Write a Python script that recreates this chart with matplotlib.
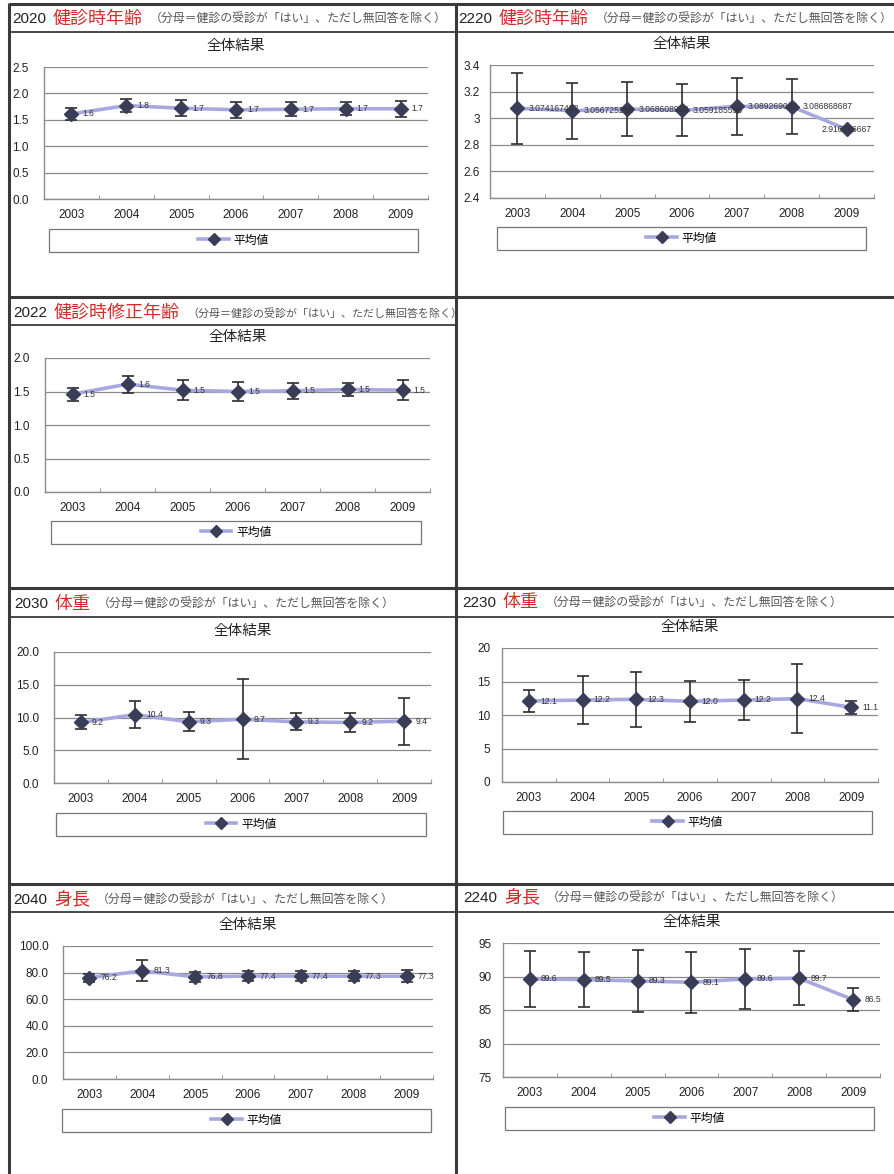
import matplotlib
matplotlib.use("Agg")
import matplotlib.pyplot as plt
from matplotlib.lines import Line2D
from matplotlib.patches import Rectangle
from matplotlib.ticker import FixedLocator, FuncFormatter
import numpy as np

plt.rcParams['font.family'] = ['Liberation Sans', 'Noto Sans CJK JP']

# data
years = ["2003", "2004", "2005", "2006", "2007", "2008", "2009"]

age_2020_mean = [1.61, 1.77, 1.72, 1.69, 1.70, 1.71, 1.71]
age_2020_err = [0.12, 0.13, 0.15, 0.15, 0.13, 0.12, 0.15]

age_2220_mean = [3.074167402, 3.056725258, 3.068608923, 3.059185556,
                 3.089269006, 3.086868687, 2.916666667]
age_2220_err = [0.265, 0.21, 0.20, 0.195, 0.215, 0.205, 0.0]

corr_2022_mean = [1.46, 1.61, 1.52, 1.50, 1.51, 1.53, 1.52]
corr_2022_err = [0.095, 0.125, 0.15, 0.14, 0.115, 0.10, 0.145]

wt_2030_mean = [9.24, 10.44, 9.34, 9.74, 9.33, 9.24, 9.44]
wt_2030_err = [1.07, 2.1, 1.45, 6.1, 1.3, 1.38, 3.6]

wt_2230_mean = [12.08, 12.24, 12.34, 12.04, 12.24, 12.44, 11.14]
wt_2230_err = [1.7, 3.65, 4.1, 3.05, 3.05, 5.2, 0.95]

ht_2040_mean = [76.2, 81.3, 76.8, 77.4, 77.4, 77.3, 77.3]
ht_2040_err = [3.0, 7.8, 4.0, 3.9, 3.9, 3.9, 4.4]

ht_2240_mean = [89.64, 89.54, 89.34, 89.14, 89.64, 89.74, 86.54]
ht_2240_err = [4.2, 4.15, 4.6, 4.55, 4.5, 4.05, 1.75]

codes = ["2020", "2220", "2022", "2030", "2230", "2040", "2240"]
names = ["健診時年齢", "健診時年齢", "健診時修正年齢", "体重", "体重", "身長", "身長"]
means = [age_2020_mean, age_2220_mean, corr_2022_mean, wt_2030_mean,
         wt_2230_mean, ht_2040_mean, ht_2240_mean]
errs = [age_2020_err, age_2220_err, corr_2022_err, wt_2030_err,
        wt_2230_err, ht_2040_err, ht_2240_err]
ylims = [(0, 2.5, 0.5), (2.4, 3.4, 0.2), (0, 2.0, 0.5), (0, 20, 5),
         (0, 20, 5), (0, 100, 20), (75, 95, 5)]
tick_fmts = ["{:.1f}", "{:g}", "{:.1f}", "{:.1f}", "{:g}", "{:.1f}", "{:g}"]
label_fmts = ["{:.1f}", "{:.9f}", "{:.1f}", "{:.1f}", "{:.1f}", "{:.1f}", "{:.1f}"]

subtitle = "（分母＝健診の受診が「はい」、ただし無回答を除く）"
chart_title = "全体結果"
legend_label = "平均値"

# page layout in pixels
W, H = 894, 1174
plot_boxes = [(44, 67, 428, 199), (490, 65, 874, 198), (45, 358, 430, 492),
              (54, 652, 431, 783), (502, 648, 878, 782), (63, 946, 433, 1079),
              (503, 943, 880, 1077)]
legend_boxes = [(49, 229, 418, 252), (497, 227, 866, 250), (51, 521, 421, 544),
                (56, 813, 426, 836), (503, 811, 872, 834), (62, 1109, 431, 1132),
                (505, 1107, 874, 1130)]
heads = [(12, 19), (458, 19), (13, 313), (14, 604), (462, 603), (13, 900), (463, 898)]
sub_sizes = [8.6, 8.6, 7.9, 8.6, 8.6, 8.6, 8.6]
ypads = [11, 7.5, 11, 10.5, 8.5, 10.5, 8]

line_col = "#a8a8e0"
mark_col = "#3a3d58"
border = "#3a3a3a"

fig = plt.figure(figsize=(W / 100, H / 100), dpi=100)
page = fig.add_axes([0, 0, 1, 1])
page.set_xlim(0, W)
page.set_ylim(H, 0)
page.axis('off')


def box(x0, y0, x1, y1):
    return [x0 / W, 1 - y1 / H, (x1 - x0) / W, (y1 - y0) / H]


# frame of the sheet
page.vlines([9, 456], 3, H, color=border, lw=2.2)
page.hlines([4, 297, 588, 884], 9, W, color=border, lw=2.2)
page.hlines([32, 617, 912], 9, W, color=border, lw=1.3)
page.hlines([325], 9, 456, color=border, lw=1.3)

for i in range(len(codes)):
    # header bar
    hx, hy = heads[i]
    t1 = page.text(hx, hy, codes[i], fontsize=11, color="#222222",
                   ha='left', va='center')
    t2 = page.annotate(names[i], xy=(1, 0.5), xycoords=t1, xytext=(5, 0),
                       textcoords='offset points', fontsize=13, color="#d42a2a",
                       ha='left', va='center')
    page.annotate(subtitle, xy=(1, 0.5), xycoords=t2, xytext=(5, 0),
                  textcoords='offset points', fontsize=sub_sizes[i], color="#555555",
                  ha='left', va='center')

    # chart
    ax = fig.add_axes(box(*plot_boxes[i]))
    ax.set_facecolor('none')
    x = np.arange(len(years))
    m = means[i]
    ax.plot(x, m, color=line_col, lw=2.6, zorder=2)
    ax.errorbar(x, m, yerr=errs[i], fmt='none', ecolor='#2e2e2e',
                elinewidth=1.2, capsize=4.5, capthick=1.2, zorder=3)
    ax.plot(x, m, ls='none', marker='D', ms=7, mfc=mark_col, mec=mark_col, zorder=4)

    for j, v in enumerate(m):
        txt = label_fmts[i].format(v)
        if j == len(m) - 1 and len(txt) > 6:
            ax.annotate(txt, (j, v), xytext=(0, 0), textcoords='offset points',
                        ha='center', va='center', fontsize=6.2, color='#333333', zorder=5)
        else:
            ax.annotate(txt, (j, v), xytext=(8, 0), textcoords='offset points',
                        ha='left', va='center', fontsize=6.2, color='#333333', zorder=5)

    lo, hi, step = ylims[i]
    ax.set_xlim(-0.5, len(years) - 0.5)
    ax.set_ylim(lo, hi)
    ax.set_yticks(np.arange(lo, hi + step / 2, step))
    fmt = tick_fmts[i]
    ax.yaxis.set_major_formatter(FuncFormatter(lambda v, p, f=fmt: f.format(v)))
    ax.set_xticks(x)
    ax.set_xticklabels(years)
    ax.xaxis.set_minor_locator(FixedLocator(np.arange(0.5, len(years), 1.0)))
    ax.tick_params(axis='y', length=0, pad=ypads[i], labelsize=8.5, labelcolor='#222222')
    ax.tick_params(axis='x', which='major', length=0, pad=7, labelsize=8.5, labelcolor='#222222')
    ax.tick_params(axis='x', which='minor', length=3, direction='in', color='#888888')
    ax.yaxis.grid(True, color='#8a8a8a', lw=0.9)
    ax.set_axisbelow(True)
    for s in ['top', 'right']:
        ax.spines[s].set_visible(False)
    for s in ['left', 'bottom']:
        ax.spines[s].set_color('#8c8c8c')
        ax.spines[s].set_linewidth(1.0)
    ax.set_title(chart_title, fontsize=10.5, pad=12, color='#222222')

    # legend box
    lx0, ly0, lx1, ly1 = legend_boxes[i]
    page.add_patch(Rectangle((lx0, ly0), lx1 - lx0, ly1 - ly0, fill=False,
                             ec='#777777', lw=0.9))
    handle = Line2D([], [], color=line_col, lw=2.6, marker='D', ms=6,
                    mfc=mark_col, mec=mark_col)
    fig.legend(handles=[handle], labels=[legend_label], loc='center',
               bbox_to_anchor=((lx0 + lx1) / 2 / W, 1 - (ly0 + ly1) / 2 / H),
               frameon=False, fontsize=8.5, handlelength=2.6,
               handletextpad=0.4, borderpad=0)

fig.savefig("out.png", dpi=100, facecolor='white')
